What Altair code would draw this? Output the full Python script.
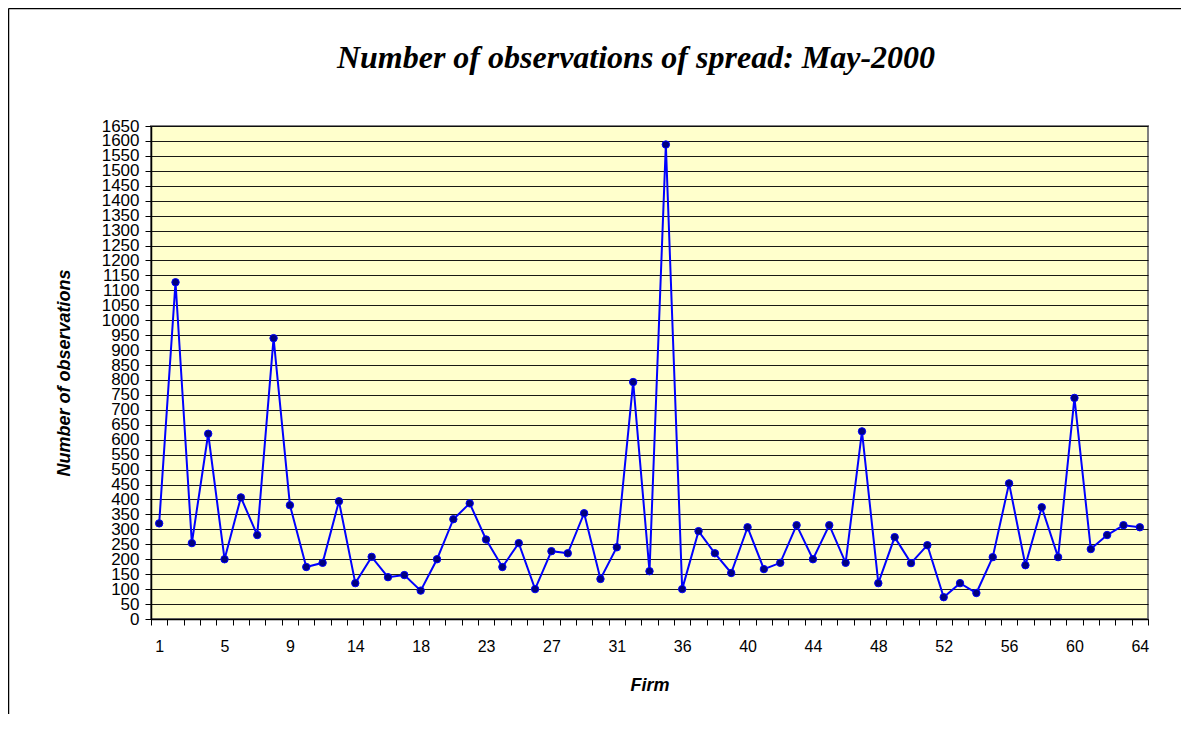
import altair as alt
import pandas as pd

# Firm identifiers (61 firms shown; every 4th labelled on the axis)
firms = [1, 2, 3, 4, 5, 6, 7, 8, 9, 10, 11, 13, 14, 15, 16, 17, 18, 19, 20, 21,
         23, 24, 25, 26, 27, 28, 29, 30, 31, 32, 33, 35, 36, 37, 38, 39, 40, 41,
         42, 43, 44, 45, 46, 47, 48, 49, 50, 51, 52, 53, 54, 55, 56, 57, 58, 59,
         60, 61, 62, 63, 64]

observations = [320, 1127, 254, 620, 200, 407, 281, 940, 381, 174,
                188, 394, 120, 208, 140, 147, 95, 200, 334, 387,
                266, 174, 254, 100, 227, 220, 354, 134, 240, 793,
                160, 1588, 100, 294, 220, 154, 307, 167, 188, 314,
                200, 314, 188, 628, 120, 274, 187, 247, 73, 120,
                87, 207, 454, 180, 374, 207, 740, 234, 281, 314, 307]

labelled_firms = [1, 5, 9, 14, 18, 23, 27, 31, 36, 40, 44, 48, 52, 56, 60, 64]
y_ticks = list(range(0, 1700, 50))
chart_title = "Number of observations of spread: May-2000"

df = pd.DataFrame({"Firm": [str(f) for f in firms], "Obs": observations})
firm_order = [str(f) for f in firms]
shown = "[" + ",".join("'%d'" % f for f in labelled_firms) + "]"

x_enc = alt.X(
    "Firm:O",
    sort=firm_order,
    bandPosition=0.5,
    scale=alt.Scale(type="band", paddingInner=0, paddingOuter=0),
    axis=alt.Axis(
        title="Firm",
        labelAngle=0,
        labelExpr="indexof(" + shown + ", datum.label) >= 0 ? datum.label : ''",
        tickBand="extent",
        tickSize=6,
        tickColor="#000000",
        tickWidth=1,
        labelFont="Liberation Sans",
        labelFontSize=16,
        labelColor="#000000",
        labelPadding=13,
        titleFont="Liberation Sans",
        titleFontSize=18,
        titleFontWeight="bold",
        titleFontStyle="italic",
        titleColor="#000000",
        titlePadding=22,
        domainColor="#000000",
        domainWidth=1.5,
        grid=False,
    ),
)

y_enc = alt.Y(
    "Obs:Q",
    scale=alt.Scale(domain=[0, 1650], nice=False),
    axis=alt.Axis(
        title="Number of observations",
        values=y_ticks,
        format="d",
        tickSize=6,
        tickColor="#000000",
        labelFont="Liberation Sans",
        labelFontSize=17,
        labelColor="#000000",
        labelPadding=6,
        labelOverlap=False,
        labelBound=False,
        labelFlush=False,
        titleFont="Liberation Sans",
        titleFontSize=18,
        titleFontWeight="bold",
        titleFontStyle="italic",
        titleColor="#000000",
        titlePadding=28,
        domainColor="#000000",
        domainWidth=1.5,
        grid=True,
        gridColor="#000000",
        gridOpacity=0.9,
        gridWidth=1,
    ),
)

base = alt.Chart(df).encode(x=x_enc, y=y_enc)
line = base.mark_line(color="#0000FF", strokeWidth=2)
pts = base.mark_point(filled=True, size=55, fill="#000080", stroke="#0000FF",
                      strokeWidth=1, opacity=1, shape="circle")

one = alt.Data(values=[{"t": chart_title}])
title_text = alt.Chart(one).mark_text(
    font="Liberation Serif", fontSize=32, fontWeight="bold", fontStyle="italic",
    color="#000000", align="center", baseline="alphabetic"
).encode(x=alt.value(485), y=alt.value(-58), text="t:N")

frame_left = alt.Chart(one).mark_rule(color="#000000", strokeWidth=1.5).encode(
    x=alt.value(-142.5), y=alt.value(-117.5), y2=alt.value(620))
frame_top = alt.Chart(one).mark_rule(color="#000000", strokeWidth=1.5).encode(
    x=alt.value(-142.5), x2=alt.value(1040), y=alt.value(-117.5))

chart = alt.layer(line, pts, title_text, frame_left, frame_top).properties(
    width=997,
    height=493,
    autosize=alt.AutoSizeParams(type="none"),
    padding={"left": 143, "top": 118, "right": 33, "bottom": 95},
    background="#FFFFFF",
).configure_view(
    fill="#FFFFCC", stroke="#808080", strokeWidth=2
)

chart.save("out.html", embed_options={"renderer": "svg", "actions": False})
